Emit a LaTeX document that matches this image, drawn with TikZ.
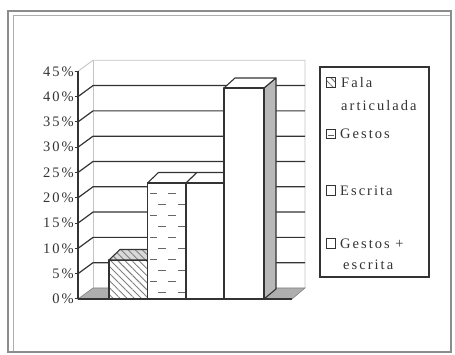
\documentclass[tikz,border=0pt]{standalone}
\usepackage{fontspec}
\newfontfamily\lbl{Liberation Serif}[LetterSpace=14]
\usetikzlibrary{patterns.meta}
\definecolor{ink}{HTML}{333333}
\definecolor{faint}{HTML}{C4C4C4}
\definecolor{floorgray}{HTML}{AEAEAE}
\definecolor{sidegray}{HTML}{B8B8B8}
\definecolor{framegray}{HTML}{8C8C8C}
\begin{document}
\begin{tikzpicture}[x=1pt,y=-1pt,
  grid/.style={draw=ink, line width=1.2pt},
  wall/.style={draw=faint, line width=0.9pt},
  bar/.style={draw=ink, line width=1.1pt, line join=round},
  hatch/.style={pattern={Lines[angle=-45,distance=5pt,line width=0.9pt]}, pattern color=gray},
  dashmark/.style={draw=gray!80!black, line width=1.1pt},
  txt/.style={text=ink, font=\lbl\fontsize{14.5}{15}\selectfont, inner sep=0pt},
  legsq/.style={draw=ink, line width=1pt, fill=white}
  ]
\useasboundingbox (0,0) rectangle (455,355);

% outer frame
\draw[framegray, line width=1.6pt] (8,11) rectangle (451,352);
\draw[framegray!70, line width=1pt] (13,351) -- (13,15.5) -- (450,15.5);

% back and side walls
\draw[wall] (78,71.3) -- (93,60.3) -- (305,60.3) -- (305,288);
\draw[wall] (93,60.3) -- (93,288);

% gridlines
\foreach \k in {1,...,8}
  \draw[grid] (78,{299-25.3*\k}) -- (93,{288-25.3*\k}) -- (305,{288-25.3*\k});

% floor
\filldraw[fill=floorgray, draw=gray, line width=0.6pt] (78,299) -- (292,299) -- (305,288) -- (93,288) -- cycle;

% bar 1 : Fala articulada
\fill[white] (109,299) rectangle (147.5,260);
\path[hatch] (109,299) rectangle (147.5,260);
\draw[bar] (109,299) rectangle (147.5,260);
\fill[gray!30] (109,260) -- (147.5,260) -- (158.5,249.5) -- (120,249.5) -- cycle;
\path[hatch] (109,260) -- (147.5,260) -- (158.5,249.5) -- (120,249.5) -- cycle;
\draw[bar] (109,260) -- (147.5,260) -- (158.5,249.5) -- (120,249.5) -- cycle;

% bar 2 : Gestos
\filldraw[bar, fill=white] (147.5,183) -- (186,183) -- (197,172.5) -- (158.5,172.5) -- cycle;
\fill[white] (147.5,299) rectangle (186,183);
\begin{scope}
  \clip (147.5,299) rectangle (186,183);
  \foreach \i in {0,2,4,6,8} {
    \draw[dashmark] (150,{193.5+11*\i}) -- (157,{193.5+11*\i});
    \draw[dashmark] (168,{193.5+11*\i}) -- (176,{193.5+11*\i});
  }
  \foreach \i in {1,3,5,7,9} {
    \draw[dashmark] (158,{193.5+11*\i}) -- (166,{193.5+11*\i});
    \draw[dashmark] (178,{193.5+11*\i}) -- (186,{193.5+11*\i});
  }
\end{scope}
\draw[bar] (147.5,299) rectangle (186,183);

% bar 3 : Escrita
\filldraw[bar, fill=white] (186,183) -- (224,183) -- (235,172.5) -- (197,172.5) -- cycle;
\filldraw[bar, fill=white] (186,299) rectangle (224,183);

% bar 4 : Gestos + escrita
\filldraw[bar, fill=sidegray] (264,299) -- (264,88) -- (276,78) -- (276,289) -- cycle;
\filldraw[bar, fill=white] (224,88) -- (264,88) -- (276,78) -- (235,78) -- cycle;
\filldraw[bar, fill=white] (224,299) rectangle (264,88);

% axes
\draw[ink, line width=1.3pt] (78,299) -- (292,299);
\draw[ink, line width=1.3pt] (78,71.3) -- (78,299);
\foreach \k in {0,...,9}
  \draw[ink, line width=1pt] (74.5,{299-25.3*\k}) -- (78,{299-25.3*\k});

\foreach \k/\v in {0/0,1/5,2/10,3/15,4/20,5/25,6/30,7/35,8/40,9/45}
  \node[txt, anchor=east] (y\v) at (74,{299-25.3*\k}) {\v\%};

% legend
\draw[ink, line width=1.1pt] (320,67) rectangle (429,277);
\draw[legsq] (326,78) rectangle (335.5,87.5);
\path[hatch] (326,78) rectangle (335.5,87.5);
\draw[ink, line width=1pt] (326,78) rectangle (335.5,87.5);
\draw[legsq] (326,129.5) rectangle (335.5,139);
\draw[dashmark] (328,135.5) -- (333.5,135.5);
\draw[legsq] (326,186) rectangle (335.5,195.5);
\draw[legsq] (326,239) rectangle (335.5,248.5);

\node[txt, anchor=base west] (l1a) at (341,88) {Fala};
\node[txt, anchor=base west] (l1b) at (341,111) {articulada};
\node[txt, anchor=base west] (l2) at (340,139) {Gestos};
\node[txt, anchor=base west] (l3) at (340,196) {Escrita};
\node[txt, anchor=base west] (l4a) at (340,249) {Gestos~+};
\node[txt, anchor=base west] (l4b) at (343,270) {escrita};
\end{tikzpicture}
\end{document}
